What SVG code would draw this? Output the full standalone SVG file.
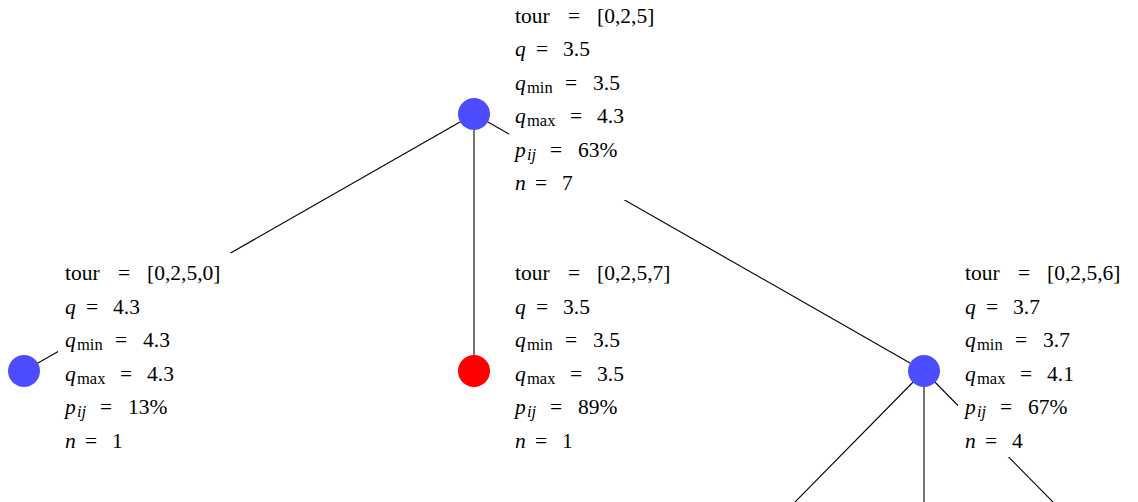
<svg xmlns="http://www.w3.org/2000/svg" width="1138" height="502" viewBox="0 0 1138 502">
<style>
.edge{stroke:#000;stroke-width:1.1;fill:none}
.blue{fill:#4d4dff}
.red{fill:#ff0000}
.box{fill:#fff}
.t{font-family:'Liberation Serif','Times New Roman',Times,Tinos,'Nimbus Roman','Nimbus Roman No9 L',FreeSerif,'DejaVu Serif','Noto Serif',serif;font-size:21.5px;fill:#000}
.i{font-style:italic}
.s{font-size:16.5px}
</style>
<rect width="1138" height="502" fill="#fff"/>
<g id="connectors">
<line class="edge" x1="474" y1="114" x2="24" y2="371"/>
<line class="edge" x1="474" y1="114" x2="474" y2="371"/>
<line class="edge" x1="474" y1="114" x2="924" y2="371"/>
<line class="edge" x1="924" y1="371" x2="671" y2="628"/>
<line class="edge" x1="924" y1="371" x2="924" y2="628"/>
<line class="edge" x1="924" y1="371" x2="1177" y2="628"/>
</g>
<g id="node-root">
<rect class="box" x="509" y="0" width="153" height="200"/>
<circle class="blue" cx="474" cy="114" r="16"/>
<g class="t" transform="translate(515,22.7)">
<text y="0"><tspan x="0">tour</tspan><tspan x="53">=</tspan><tspan x="82">[0,2,5]</tspan></text>
<text y="33.5"><tspan x="0" class="i">q</tspan><tspan x="21">=</tspan><tspan x="48">3.5</tspan></text>
<text y="67"><tspan x="0" class="i">q</tspan><tspan x="12" dy="3" class="s">min</tspan><tspan x="50" dy="-3">=</tspan><tspan x="78">3.5</tspan></text>
<text y="100.5"><tspan x="0" class="i">q</tspan><tspan x="12" dy="3" class="s">max</tspan><tspan x="55" dy="-3">=</tspan><tspan x="82">4.3</tspan></text>
<text y="134"><tspan x="0" class="i">p</tspan><tspan x="12" dy="3" class="s i">ij</tspan><tspan x="35" dy="-3">=</tspan><tspan x="63">63%</tspan></text>
<text y="167.5"><tspan x="0" class="i">n</tspan><tspan x="20">=</tspan><tspan x="47">7</tspan></text>
</g>
</g>
<g id="node-left">
<rect class="box" x="58" y="253" width="173" height="203"/>
<circle class="blue" cx="24" cy="371" r="16"/>
<g class="t" transform="translate(65,280)">
<text y="0"><tspan x="0">tour</tspan><tspan x="53">=</tspan><tspan x="82">[0,2,5,0]</tspan></text>
<text y="33.5"><tspan x="0" class="i">q</tspan><tspan x="21">=</tspan><tspan x="48">4.3</tspan></text>
<text y="67"><tspan x="0" class="i">q</tspan><tspan x="12" dy="3" class="s">min</tspan><tspan x="50" dy="-3">=</tspan><tspan x="78">4.3</tspan></text>
<text y="100.5"><tspan x="0" class="i">q</tspan><tspan x="12" dy="3" class="s">max</tspan><tspan x="55" dy="-3">=</tspan><tspan x="82">4.3</tspan></text>
<text y="134"><tspan x="0" class="i">p</tspan><tspan x="12" dy="3" class="s i">ij</tspan><tspan x="35" dy="-3">=</tspan><tspan x="63">13%</tspan></text>
<text y="167.5"><tspan x="0" class="i">n</tspan><tspan x="20">=</tspan><tspan x="47">1</tspan></text>
</g>
</g>
<g id="node-middle">
<rect class="box" x="508" y="253" width="175" height="203"/>
<circle class="red" cx="474" cy="371" r="16"/>
<g class="t" transform="translate(515,280)">
<text y="0"><tspan x="0">tour</tspan><tspan x="53">=</tspan><tspan x="82">[0,2,5,7]</tspan></text>
<text y="33.5"><tspan x="0" class="i">q</tspan><tspan x="21">=</tspan><tspan x="48">3.5</tspan></text>
<text y="67"><tspan x="0" class="i">q</tspan><tspan x="12" dy="3" class="s">min</tspan><tspan x="50" dy="-3">=</tspan><tspan x="78">3.5</tspan></text>
<text y="100.5"><tspan x="0" class="i">q</tspan><tspan x="12" dy="3" class="s">max</tspan><tspan x="55" dy="-3">=</tspan><tspan x="82">3.5</tspan></text>
<text y="134"><tspan x="0" class="i">p</tspan><tspan x="12" dy="3" class="s i">ij</tspan><tspan x="35" dy="-3">=</tspan><tspan x="63">89%</tspan></text>
<text y="167.5"><tspan x="0" class="i">n</tspan><tspan x="20">=</tspan><tspan x="47">1</tspan></text>
</g>
</g>
<g id="node-right">
<rect class="box" x="958" y="253" width="175" height="204"/>
<circle class="blue" cx="924" cy="371" r="16"/>
<g class="t" transform="translate(965,280)">
<text y="0"><tspan x="0">tour</tspan><tspan x="53">=</tspan><tspan x="82">[0,2,5,6]</tspan></text>
<text y="33.5"><tspan x="0" class="i">q</tspan><tspan x="21">=</tspan><tspan x="48">3.7</tspan></text>
<text y="67"><tspan x="0" class="i">q</tspan><tspan x="12" dy="3" class="s">min</tspan><tspan x="50" dy="-3">=</tspan><tspan x="78">3.7</tspan></text>
<text y="100.5"><tspan x="0" class="i">q</tspan><tspan x="12" dy="3" class="s">max</tspan><tspan x="55" dy="-3">=</tspan><tspan x="82">4.1</tspan></text>
<text y="134"><tspan x="0" class="i">p</tspan><tspan x="12" dy="3" class="s i">ij</tspan><tspan x="35" dy="-3">=</tspan><tspan x="63">67%</tspan></text>
<text y="167.5"><tspan x="0" class="i">n</tspan><tspan x="20">=</tspan><tspan x="47">4</tspan></text>
</g>
</g>
</svg>
